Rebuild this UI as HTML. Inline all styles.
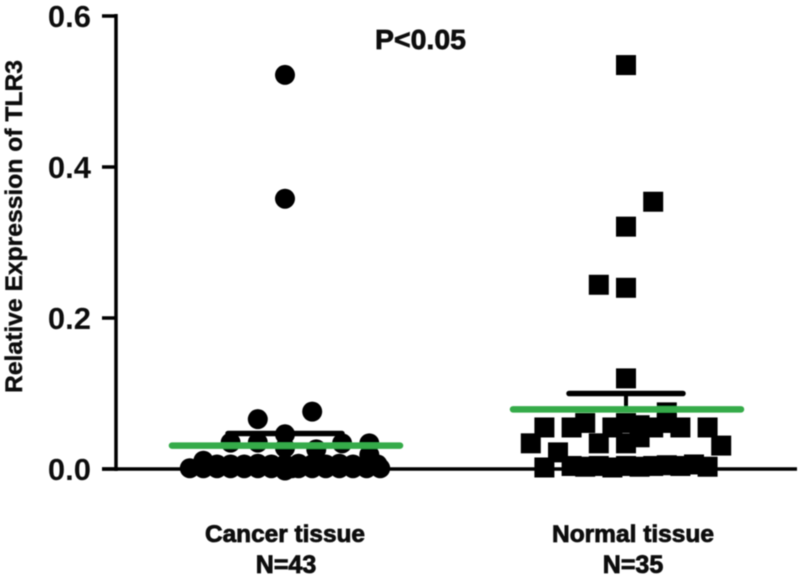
<!DOCTYPE html>
<html lang="en">
<head>
<meta charset="utf-8">
<title>Relative Expression of TLR3</title>
<style>
html,body{margin:0;padding:0;background:#fff;}
svg{display:block;}
text{font-family:"Liberation Sans",Arial,sans-serif;font-weight:bold;fill:#111;}
</style>
</head>
<body>
<svg id="chart" xmlns="http://www.w3.org/2000/svg" width="800" height="577" viewBox="0 0 800 577">
<defs><filter id="soft" x="-5%" y="-5%" width="110%" height="110%"><feGaussianBlur stdDeviation="0.6"/></filter></defs>
<g id="root" filter="url(#soft)"></g>
</svg>
<script>
const yTicks = [0, 0.2, 0.4, 0.6];
const tickLabels = ["0.0", "0.2", "0.4", "0.6"];
const groups = ["Cancer tissue", "Normal tissue"];
const groupCounts = ["N=43", "N=35"];
const cancerValues = [0.522, 0.358, 0.076, 0.066, 0.046, 0.035, 0.034, 0.035, 0.034, 0.026, 0.028,
  0.011, 0.006, 0.006, 0.006, 0.007, 0.006, 0.006, 0.007, 0.006, 0.006, 0.007, 0.006, 0.019, 0.006,
  0.001, 0.001, 0.001, 0.001, 0.001, 0.001, 0.001, 0.001, 0.001, 0.001, 0.001, 0.001, 0.001, 0.001, 0.001, 0.001, -0.002, 0.002];
const cancerJitter = [0, 0, 2, -2, 0, -4, 6.2, -2, 4.2, 2.3, 0,
  -6, -5, -4, -3, -2, -1, 0, 1, 2, 3, 4, 5, 6.2, 6.8,
  -7, -6, -5, -4, -3, -2, -1, 0, 0.5, 1, 2, 3, 4, 5, 6, 7, 0, -2];
const cancerMean = 0.031;
const cancerErrorTop = 0.047;
const normalValues = [0.535, 0.354, 0.321, 0.244, 0.24, 0.12, 0.075,
  0.061, 0.061, 0.061,
  0.055, 0.055, 0.055, 0.058, 0.055, 0.055, 0.055,
  0.034, 0.034, 0.034, 0.042, 0.031, 0.022,
  0.002, 0.004, 0.003, 0.004, 0.002, 0.004, 0.003, 0.004, 0.005, 0.004, 0.006, 0.003];
const normalJitter = [0, 2, 0, -2, 0, 0, 3,
  -3, 0, 3,
  -6, -4, -1, 1, 4, 6, 2,
  -7, -2, 0, 1, 7, -5,
  -6, -4, -3, -2, -1, 0, 1, 2, 3, 4, 5, 6];
const normalMean = 0.079;
const normalErrorTop = 0.1;
const annotation = "P<0.05";
const yAxisTitle = "Relative Expression of TLR3";

const NS = "http://www.w3.org/2000/svg";
const root = document.getElementById("root");
const yScale = v => 469 - v * 755;
const groupX = i => 285 + i * 341;
const labelX = i => 285 + i * 348;
const xScale = (i, slot) => groupX(i) + slot * 13.6;

function make(tag, attrs, text) {
  const el = document.createElementNS(NS, tag);
  Object.keys(attrs).forEach(k => el.setAttribute(k, attrs[k]));
  if (text !== undefined) el.textContent = text;
  root.appendChild(el);
  return el;
}

const yAxis = make("line", {x1: 116, x2: 116, y1: yScale(0.6) - 2, y2: yScale(0) + 2, stroke: "#000", "stroke-width": 3.5});


const xAxis = make("line", {x1: 102, x2: 797, y1: yScale(0), y2: yScale(0), stroke: "#000", "stroke-width": 3.5});



yTicks.forEach((t, i) => {
  const tick = make("line", {x1: 102, x2: 117, y1: yScale(t), y2: yScale(t), stroke: "#000", "stroke-width": 3.5});
  
  
  const label = make("text", {x: 91, y: yScale(t) + 11, "text-anchor": "end", "font-size": 31}, tickLabels[i]);
  
  
});

const title = make("text", {transform: "translate(22,226.5) rotate(-90)", "text-anchor": "middle", "font-size": 24.5, stroke: "#111", "stroke-width": 0.4, textLength: 333, lengthAdjust: "spacingAndGlyphs"}, yAxisTitle);



const note = make("text", {x: 420.5, y: 49, "text-anchor": "middle", "font-size": 28, stroke: "#111", "stroke-width": 0.7, textLength: 91, lengthAdjust: "spacingAndGlyphs"}, annotation);



groups.forEach((g, i) => {
  const cat = make("text", {x: labelX(i), y: 542, "text-anchor": "middle", "font-size": 24.5, stroke: "#111", "stroke-width": 0.8, textLength: i ? 162 : 160, lengthAdjust: "spacingAndGlyphs"}, g);
  
  
  const n = make("text", {x: labelX(i) + (i ? 0 : 1), y: 573, "text-anchor": "middle", "font-size": 25, stroke: "#111", "stroke-width": 0.8}, groupCounts[i]);
  
  
});

cancerValues.forEach((v, i) => {
  const dot = make("circle", {cx: xScale(0, cancerJitter[i]), cy: yScale(v), r: 10, fill: "#000"});
  
  
});
normalValues.forEach((v, i) => {
  const cx = xScale(1, normalJitter[i]), cy = yScale(v);
  const sq = make("rect", {x: cx - 10, y: cy - 10, width: 20, height: 20, fill: "#000"});
  
  
});

function summary(i, mean, top) {
  const cx = groupX(i);
  const stem = make("line", {x1: cx, x2: cx, y1: yScale(mean), y2: yScale(top), stroke: "#000", "stroke-width": 4});
  
  
  const cap = make("line", {x1: cx - 57, x2: cx + 57, y1: yScale(top), y2: yScale(top), stroke: "#000", "stroke-width": 5.5, "stroke-linecap": "round"});
  
  
  const m = make("line", {x1: cx - 113, x2: cx + 115, y1: yScale(mean), y2: yScale(mean), stroke: "#34ab4a", "stroke-width": 6.5, "stroke-linecap": "round"});
  
  
}
summary(0, cancerMean, cancerErrorTop);
summary(1, normalMean, normalErrorTop);
</script>
</body>
</html>
